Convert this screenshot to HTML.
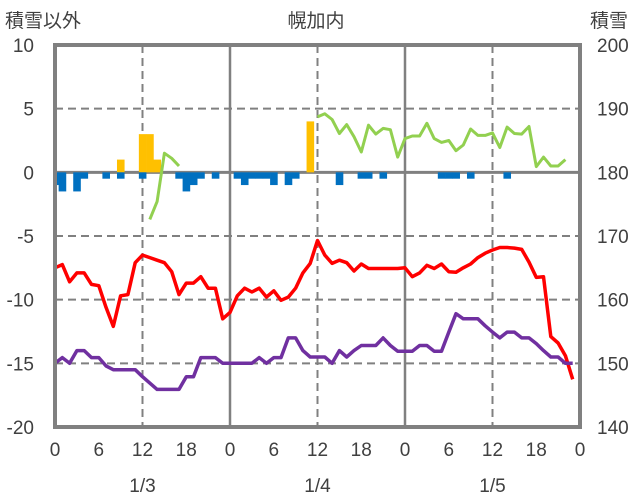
<!DOCTYPE html>
<html><head><meta charset="utf-8"><style>
html,body{margin:0;padding:0;background:#fff;}
svg{display:block;font-family:"Liberation Sans","Noto Sans CJK JP",sans-serif;}
</style></head><body>
<svg id="chart" width="636" height="501" viewBox="0 0 636 501">
<g id="grid"></g>
<g id="bars"></g>
<g id="lines"></g>
<g id="frame"></g>
<g id="labels" fill="#404040" font-size="19"></g>
</svg>
<script>
const leftTicks=[10,5,0,-5,-10,-15,-20];
const rightTicks=[200,190,180,170,160,150,140];
const hourTicks=["0","6","12","18","0","6","12","18","0","6","12","18","0"];
const dayLabels=["1/3","1/4","1/5"];
const redTemp=[-7.5,-7.25,-8.6,-7.9,-7.9,-8.8,-8.9,-10.6,-12.1,-9.7,-9.6,-7.1,-6.5,-6.7,-6.9,-7.1,-7.8,-9.6,-8.7,-8.7,-8.2,-9.1,-9.1,-11.5,-11.0,-9.7,-9.1,-9.4,-9.1,-9.8,-9.3,-10.05,-9.8,-9.1,-7.9,-7.15,-5.35,-6.5,-7.15,-6.9,-7.1,-7.75,-7.2,-7.55,-7.55,-7.55,-7.55,-7.55,-7.5,-8.2,-7.9,-7.3,-7.55,-7.2,-7.8,-7.85,-7.5,-7.2,-6.7,-6.35,-6.1,-5.9,-5.9,-5.95,-6.05,-7.05,-8.25,-8.2,-12.9,-13.4,-14.4,-16.25];
const purpleSnow=[150,150.9,150,152,152,150.9,150.9,149.6,149,149,149,149,147.9,146.9,145.9,145.9,145.9,145.9,147.9,147.9,150.9,150.9,150.9,150,150,150,150,150,150.9,150,150.9,150.9,154,154,152,151,151,151,150,152,151,152,152.8,152.8,152.8,154,152.8,151.9,151.9,151.9,152.8,152.8,151.9,151.9,154.9,157.8,157,157,157,155.9,154.9,154,154.9,154.9,154,154,153.1,152,151,151,150,150];
const greenHours=[13,14,15,16,17,null,36,37,38,39,40,41,42,43,44,45,46,47,48,49,50,51,52,53,54,55,56,57,58,59,60,61,62,63,64,65,66,67,68,69,70];
const greenSnow=[172.6,175.4,183.0,182.2,181.0,null,188.7,189.2,188.3,186.1,187.5,185.6,183.2,187.4,186.0,186.9,186.7,182.4,185.3,185.7,185.7,187.7,185.3,184.7,185,183.4,184.3,186.8,185.8,185.8,186.2,183.9,187.1,186.1,186,187.2,180.9,182.4,181.0,181,182.0];
const yellowHours=[9,12,13,14,35];
const yellowVals=[1,3,3,1,4];
const blueHours=[0,1,3,4,7,9,12,17,18,19,20,22,25,26,27,28,29,30,32,33,39,42,43,45,53,54,55,57,62];
const blueVals=[-1,-1.5,-1.5,-0.5,-0.5,-0.5,-0.5,-0.5,-1.5,-1,-0.5,-0.5,-0.5,-1,-0.5,-0.5,-0.5,-1,-1,-0.5,-1,-0.5,-0.5,-0.5,-0.5,-0.5,-0.5,-0.5,-0.5];

const X0=55,X1=580,Y0=45,Y1=427;
const x=h=>X0+(X1-X0)*h/72;
const yL=v=>Y0+(10-v)*(Y1-Y0)/30;
const yR=v=>Y0+(200-v)*(Y1-Y0)/60;
const NS="http://www.w3.org/2000/svg";
function mk(tag,parent,attrs){const e=document.createElementNS(NS,tag);for(const k in attrs)e.setAttribute(k,attrs[k]);parent.appendChild(e);return e;}
const grid=document.getElementById('grid'),bars=document.getElementById('bars'),lines=document.getElementById('lines'),frame=document.getElementById('frame'),labels=document.getElementById('labels');

leftTicks.forEach(v=>{
  if(v===10||v===-20||v===0)return;
  const l=mk('line',grid,{x1:X0,x2:X1,y1:yL(v),y2:yL(v),stroke:'#808080','stroke-width':2,'stroke-dasharray':'8,5'});
  
  
});
for(let h=12;h<72;h+=12){
  const day=h%24===0;
  const l=mk('line',grid,{x1:x(h),x2:x(h),y1:Y0,y2:Y1,stroke:'#808080','stroke-width':day?2.5:2,'stroke-dasharray':day?'none':'8,5'});
  
  
}
const bw=(X1-X0)/72;
yellowHours.forEach((h,i)=>{
  const r=mk('rect',bars,{x:x(h)-bw/2,y:yL(yellowVals[i]),width:bw+0.3,height:yL(0)-yL(yellowVals[i]),fill:'#FFC000'});
  
  
});
blueHours.forEach((h,i)=>{
  const xl=Math.max(X0,x(h)-bw/2);
  const r=mk('rect',bars,{x:xl,y:yL(0),width:x(h)+bw/2-xl+0.3,height:yL(blueVals[i])-yL(0),fill:'#0070C0'});
  
  
});
const zl=mk('line',grid,{x1:X0,x2:X1,y1:yL(0),y2:yL(0),stroke:'#808080','stroke-width':3});



const redPts=redTemp.map((v,h)=>x(h).toFixed(1)+','+yL(v).toFixed(1)).join(' ');
const rp=mk('polyline',lines,{points:redPts,fill:'none',stroke:'#FF0000','stroke-width':3.5,'stroke-linejoin':'round'});


const pPts=purpleSnow.map((v,h)=>x(h).toFixed(1)+','+yR(v).toFixed(1)).join(' ');
const pp=mk('polyline',lines,{points:pPts,fill:'none',stroke:'#7030A0','stroke-width':3.5,'stroke-linejoin':'round'});


let seg=[];const segs=[];
greenHours.forEach((h,i)=>{if(h===null){segs.push(seg);seg=[];}else seg.push(x(h).toFixed(1)+','+yR(greenSnow[i]).toFixed(1));});
segs.push(seg);
segs.forEach(s=>{
  const g=mk('polyline',lines,{points:s.join(' '),fill:'none',stroke:'#92D050','stroke-width':3,'stroke-linejoin':'round'});
  
  
});

const fr=mk('rect',frame,{x:X0,y:Y0,width:X1-X0,height:Y1-Y0,fill:'none',stroke:'#808080','stroke-width':4});



leftTicks.forEach(v=>{
  const t=mk('text',labels,{x:34,y:yL(v)+7,'text-anchor':'end'});t.textContent=v;
  
  
});
rightTicks.forEach(v=>{
  const t=mk('text',labels,{x:597,y:yR(v)+7,'text-anchor':'start'});t.textContent=v;
  
  
});
hourTicks.forEach((s,i)=>{
  const t=mk('text',labels,{x:x(i*6),y:456,'text-anchor':'middle'});t.textContent=s;
  
  
});
dayLabels.forEach((s,i)=>{
  const t=mk('text',labels,{x:x(i*24+12),y:492,'text-anchor':'middle'});t.textContent=s;
  
  
});
[['積雪以外',5,27,'start','left-axis-title'],['幌加内',316,27,'middle','chart-title'],['積雪',628,27,'end','right-axis-title']].forEach(a=>{
  const t=mk('text',labels,{x:a[1],y:a[2],'text-anchor':a[3]});t.textContent=a[0];
  
  
});
</script>
</body></html>
